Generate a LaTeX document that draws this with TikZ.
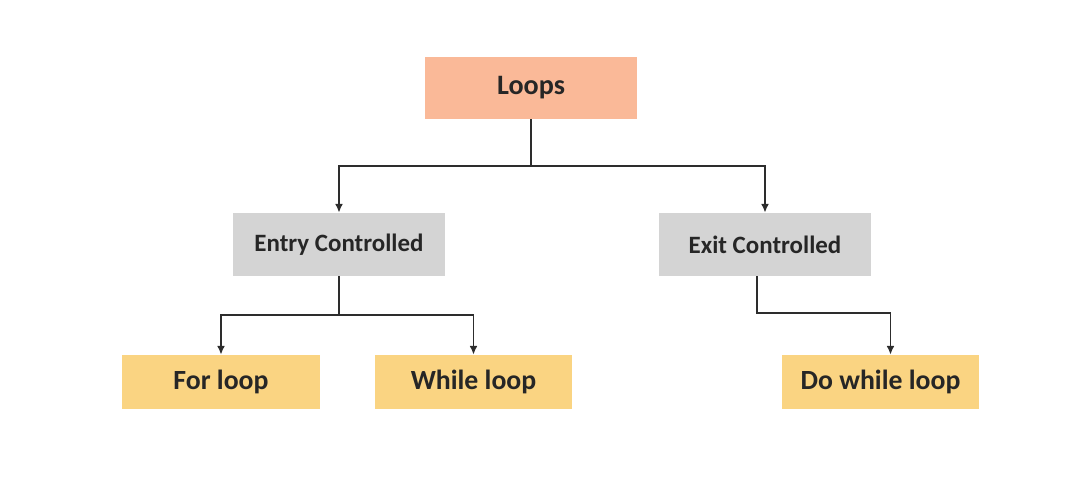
\documentclass[tikz,border=0pt]{standalone}
\usepackage{fontspec}
\setmainfont{Carlito}
\usetikzlibrary{arrows.meta}
\definecolor{rootfill}{RGB}{250,185,152}
\definecolor{midfill}{RGB}{212,212,212}
\definecolor{leaffill}{RGB}{250,212,130}
\definecolor{wire}{RGB}{45,45,45}
\tikzstyle{box}=[inner sep=0pt, text=black!85]
\tikzstyle{rootbox}=[box, fill=rootfill, minimum width=4.24cm, minimum height=1.24cm, font=\bfseries\fontsize{16}{18}\selectfont]
\tikzstyle{midbox}=[box, fill=midfill, minimum width=4.24cm, minimum height=1.26cm, font=\bfseries\fontsize{14.2}{16}\selectfont]
\tikzstyle{leafbox}=[box, fill=leaffill, minimum width=3.96cm, minimum height=1.08cm, font=\bfseries\fontsize{15.8}{18}\selectfont]
\tikzstyle{link}=[wire, line width=0.9pt, -{Latex[length=5pt,width=4.5pt]}]
\begin{document}
\begin{tikzpicture}[x=0.02cm, y=-0.02cm]
        \useasboundingbox (0, 0) rectangle (1080, 500);
        \node[rootbox] (L)  at (531, 88)    {Loops};
        \node[midbox]  (EC) at (339, 244.5) {Entry Controlled};
        \node[midbox]  (XC) at (765, 244.5) {Exit Controlled};
        \node[leafbox] (FL) at (221, 382)   {For loop};
        \node[leafbox] (WL) at (473.5, 382) {While loop};
        \node[leafbox] (DW) at (880.5, 382) {Do while loop};
        \coordinate (j1) at (531, 166);
        \coordinate (j2) at (339, 315);
        \coordinate (j3) at (757, 313);
        \draw[link] (L.south) -- (j1) -| (EC.north);
        \draw[link] (j1) -| (XC.north);
        \draw[link] (EC.south) -- (j2) -| (FL.north);
        \draw[link] (j2) -| (WL.north);
        \draw[link] (XC.south -| j3) -- (j3) -| ([xshift=0.2cm]DW.north);
    \end{tikzpicture}
\end{document}
